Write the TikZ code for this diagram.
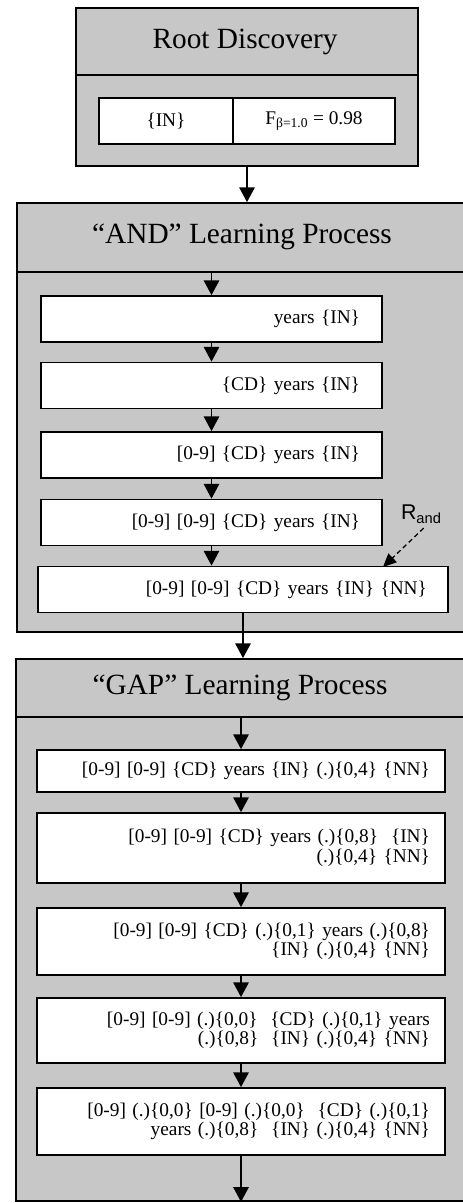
\documentclass[tikz,border=0pt]{standalone}
\usepackage{fontspec}
\setmainfont{Liberation Serif}
\newfontfamily\labelfont{Liberation Sans}
\usetikzlibrary{arrows.meta}
\begin{document}
\begin{tikzpicture}[x=0.75pt,y=-0.75pt,
  frame/.style={draw, line width=1.3pt, fill=black!22, rectangle, inner sep=0pt},
  band/.style={line width=1.3pt},
  title/.style={font=\fontsize{22}{26}\selectfont, inner sep=0pt},
  cell/.style={draw, line width=1.3pt, fill=white, rectangle, minimum height=34.5pt,
    inner sep=0pt, font=\fontsize{14.5}{15}\selectfont},
  andstage/.style={draw, line width=1.3pt, fill=white, rectangle, minimum height=34.5pt,
    inner ysep=0pt, inner xsep=16.5pt, text width=222.75pt, align=right,
    font=\fontsize{14.5}{15}\selectfont},
  gapstage/.style={draw, line width=1.3pt, fill=white, rectangle,
    inner ysep=0pt, inner xsep=11.25pt, text width=283.5pt, align=right,
    font=\fontsize{14.5}{14.5}\selectfont},
  arr/.style={line width=1.1pt, -{Triangle[width=11.5pt,length=11pt]}},
  dasharr/.style={line width=1pt, dash pattern=on 3.5pt off 2.5pt,
    -{Triangle[width=9pt,length=10pt]}}]
\useasboundingbox (0,0) rectangle (462,1203);

% outer frames
\node[frame, minimum width=256.5pt, minimum height=118.5pt] (root) at (247,87) {};
\node[frame, minimum width=339.75pt, minimum height=321.75pt] (andbox) at (243.5,417.5) {};
\node[frame, minimum width=340.5pt, minimum height=406.5pt] (gapbox) at (243,930) {};

% title bands
\coordinate (rootband) at (0,75);
\coordinate (andband) at (0,272);
\coordinate (gapband) at (0,717);
\draw[band] (root.west |- rootband) -- (root.east |- rootband);
\draw[band] (andbox.west |- andband) -- (andbox.east |- andband);
\draw[band] (gapbox.west |- gapband) -- (gapbox.east |- gapband);

\node[title] (roottitle) at (245,42) {Root Discovery};
\node[title] (andtitle) at (242,237) {“AND” Learning Process};
\node[title] (gaptitle) at (240,688) {“GAP” Learning Process};

% root result
\node[cell, minimum width=100.5pt] (rin) at (166,121) {\{IN\}};
\node[cell, minimum width=121.5pt] (rf) at (314,121) {F\textsubscript{β=1.0} = 0.98};

% AND stages
\node[andstage] (a1) at (211.5,319) {years \{IN\}};
\node[andstage] (a2) at (211.5,385.5) {\{CD\} years \{IN\}};
\node[andstage] (a3) at (211.5,455) {[0-9] \{CD\} years \{IN\}};
\node[andstage] (a4) at (211.5,522.5) {[0-9] [0-9] \{CD\} years \{IN\}};
\node[andstage, inner xsep=15.75pt, text width=276pt] (a5) at (243,589.5)
  {[0-9] [0-9] \{CD\} years \{IN\} \{NN\}};

% R_and label
\node (rand) at (421,514) {\labelfont\fontsize{16}{18}\selectfont R\raisebox{-3pt}{\fontsize{11}{12}\selectfont and}};
\coordinate (randtip) at (383,567);
\draw[dasharr] ([xshift=2pt]rand.south) -- (randtip);

% GAP stages
\node[gapstage, minimum height=31.5pt] (g1) at (241,771)
  {[0-9] [0-9] \{CD\} years \{IN\} (.)\{0,4\} \{NN\}};
\node[gapstage, minimum height=52.5pt] (g2) at (241,848)
  {[0-9] [0-9] \{CD\} years (.)\{0,8\}\ \ \{IN\}\\ (.)\{0,4\} \{NN\}};
\node[gapstage, minimum height=50.25pt] (g3) at (241,941.5)
  {[0-9] [0-9] \{CD\} (.)\{0,1\} years (.)\{0,8\}\\ \{IN\} (.)\{0,4\} \{NN\}};
\node[gapstage, minimum height=48.75pt] (g4) at (241,1030.5)
  {[0-9] [0-9] (.)\{0,0\}\ \ \{CD\} (.)\{0,1\} years\\ (.)\{0,8\}\ \ \{IN\} (.)\{0,4\} \{NN\}};
\node[gapstage, minimum height=50.25pt] (g5) at (241,1121.5)
  {[0-9] (.)\{0,0\} [0-9] (.)\{0,0\}\ \ \{CD\} (.)\{0,1\}\\ years (.)\{0,8\}\ \ \{IN\} (.)\{0,4\} \{NN\}};

% connectors
\draw[arr] (root.south) -- (root.south |- andbox.north);
\draw[arr] (a1.north |- andband) -- (a1.north);
\draw[arr] (a1.south) -- (a2.north);
\draw[arr] (a2.south) -- (a3.north);
\draw[arr] (a3.south) -- (a4.north);
\draw[arr] (a4.south) -- (a4.south |- a5.north);
\draw[arr] (a5.south) -- (a5.south |- gapbox.north);
\draw[arr] (g1.north |- gapband) -- (g1.north);
\draw[arr] (g1.south) -- (g2.north);
\draw[arr] (g2.south) -- (g3.north);
\draw[arr] (g3.south) -- (g4.north);
\draw[arr] (g4.south) -- (g5.north);
\draw[arr] (g5.south) -- (g5.south |- gapbox.south);
\end{tikzpicture}
\end{document}
